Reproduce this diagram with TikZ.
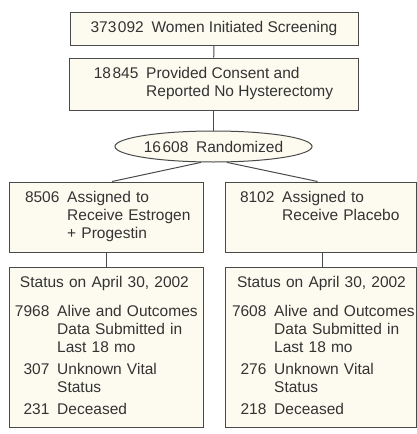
\documentclass[tikz,border=0pt]{standalone}
\usepackage{fontspec}
\setmainfont{Liberation Sans}
\usetikzlibrary{shapes.geometric}
\definecolor{boxc}{HTML}{FDFBEF}
\definecolor{bordc}{HTML}{4A4A4A}
\definecolor{txtc}{HTML}{333333}
\newcommand{\fsz}{\fontsize{15.5}{18}\selectfont}
\newcommand{\gp}{\hspace{0.5em}}
\newcommand{\ts}{\hspace{1.5pt}}
\tikzset{
  box/.style={draw=bordc, fill=boxc, line width=1pt, rectangle, inner ysep=0pt,
    text=txtc, font=\fsz},
  conn/.style={draw=bordc, line width=1pt}
}
\begin{document}
\begin{tikzpicture}[x=1pt,y=-1pt]
\useasboundingbox (0,0) rectangle (417,434);
\node[box, minimum width=288pt, minimum height=33pt, inner xsep=0pt] (b1) at (214,28.5)
  {373\ts092\gp Women Initiated Screening};
\node[box, minimum width=289pt, minimum height=52pt, inner xsep=0pt] (b2) at (213.5,84)
  {\begin{tabular}{@{}r@{\gp}l@{}}18\ts845 & Provided Consent and\\ & Reported No Hysterectomy\end{tabular}};
\node[box, ellipse, minimum width=197pt, minimum height=31pt, inner sep=0pt] (ell) at (213.5,146.5)
  {16\ts608\gp Randomized};
\node[box, minimum width=194pt, minimum height=70pt, inner xsep=16pt, text width=162pt, align=left] (b3l) at (106,217)
  {\begin{tabular}{@{}r@{\gp}l@{}}8506 & Assigned to\\ & Receive Estrogen\\ & + Progestin\end{tabular}};
\node[box, minimum width=191pt, minimum height=70pt, inner xsep=15pt, text width=161pt, align=left] (b3r) at (320.5,217)
  {\begin{tabular}{@{}r@{\gp}l@{}}8102 & Assigned to\\ & Receive Placebo\\ & \end{tabular}};
\node[box, minimum width=194pt, minimum height=160pt, inner xsep=6pt, text width=182pt, align=left] (b4l) at (106,347)
  {\begin{tabular}{@{}r@{\gp}l@{}}\multicolumn{2}{@{\hspace{5pt}}l@{}}{Status on April 30, 2002}\\[11pt]
  7968 & Alive and Outcomes\\ & Data Submitted in\\ & Last 18 mo\\[4pt]
  307 & Unknown Vital\\ & Status\\[4pt]
  231 & Deceased\end{tabular}};
\node[box, minimum width=191pt, minimum height=160pt, inner xsep=7pt, text width=177pt, align=left] (b4r) at (320.5,347)
  {\begin{tabular}{@{}r@{\gp}l@{}}\multicolumn{2}{@{\hspace{5pt}}l@{}}{Status on April 30, 2002}\\[11pt]
  7608 & Alive and Outcomes\\ & Data Submitted in\\ & Last 18 mo\\[4pt]
  276 & Unknown Vital\\ & Status\\[4pt]
  218 & Deceased\end{tabular}};
\draw[conn] (b1) -- (b2);
\draw[conn] (b2) -- (ell);
\draw[conn] (ell.232) -- ([xshift=6pt]b3l.north);
\draw[conn] (ell.-50) -- ([xshift=-3pt]b3r.north);
\draw[conn] (b3l) -- (b4l);
\draw[conn] ([xshift=1.5pt]b3r.south) -- ([xshift=1.5pt]b4r.north);
\end{tikzpicture}
\end{document}
